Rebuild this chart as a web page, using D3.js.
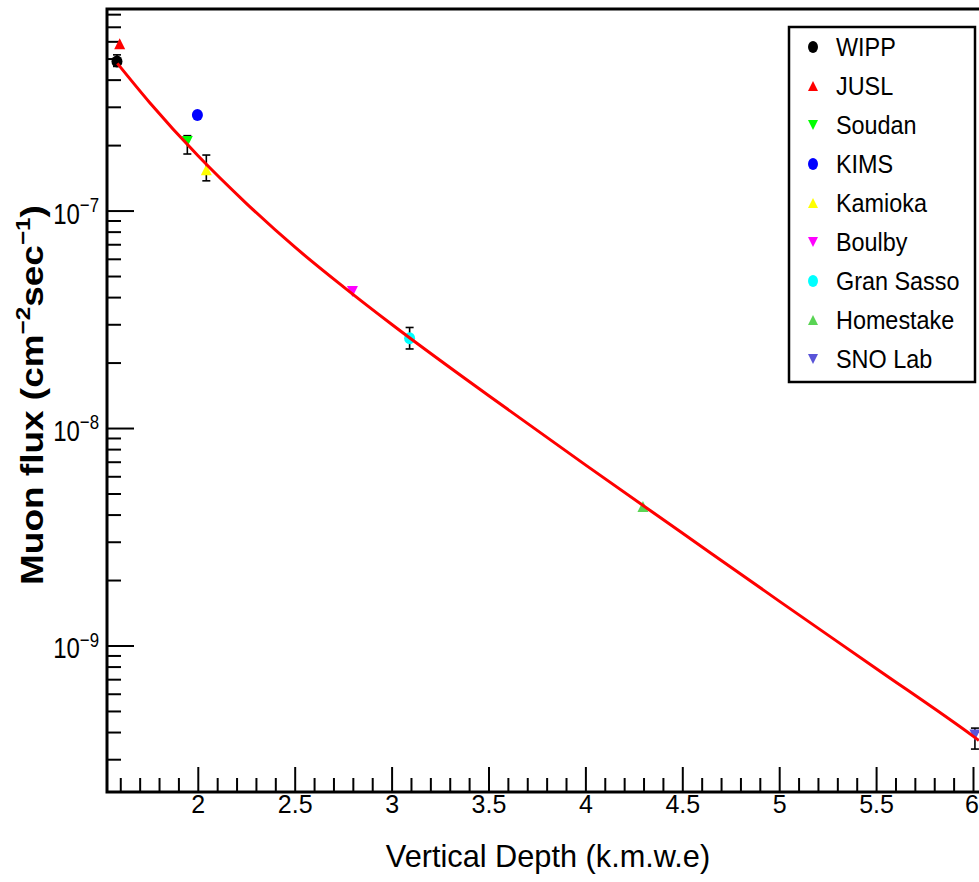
<!DOCTYPE html>
<html><head><meta charset="utf-8">
<script src="https://cdn.jsdelivr.net/npm/d3@7"></script>
<style>
body{margin:0;background:#fff}
text{font-family:"Liberation Sans",Arial,Helvetica,sans-serif;fill:#000}
</style>
</head><body>
<svg id="c" width="979" height="882"></svg>
<script>
// ---------------- data ----------------
const sites   = ["WIPP","JUSL","Soudan","KIMS","Kamioka","Boulby","Gran Sasso","Homestake","SNO Lab"];
const depths  = [1.583, 1.597, 1.946, 1.998, 2.044, 2.798, 3.093, 4.297, 6.01];
const fluxes  = [4.85e-7, 5.85e-7, 2.08e-7, 2.75e-7, 1.54e-7, 4.25e-8, 2.59e-8, 4.36e-9, 3.88e-10];
const errLow  = [4.6e-7, null, 1.82e-7, null, 1.37e-7, null, 2.31e-8, null, 3.34e-10];
const errHigh = [5.2e-7, null, 2.21e-7, null, 1.80e-7, null, 2.90e-8, null, 4.17e-10];
// fitted curve
const fitDepth = [1.585, 1.75, 2.0, 2.25, 2.5, 2.75, 3.0, 3.5, 4.0, 4.5, 5.0, 5.5, 6.0, 6.03];
const fitFlux  = [4.75e-7, 3.15e-7, 1.79e-7, 1.08e-7, 6.8e-8, 4.47e-8, 3.0e-8, 1.41e-8, 6.77e-9, 3.29e-9, 1.60e-9, 7.84e-10, 3.83e-10, 3.66e-10];
// ticks
const xMajorTicks = [2, 2.5, 3, 3.5, 4, 4.5, 5, 5.5, 6];
const xTickLabels = ["2","2.5","3","3.5","4","4.5","5","5.5","6"];
const yDecades    = [-7, -8, -9];
const xTitle = "Vertical Depth (k.m.w.e)";

// ---------------- styles ----------------
const markerColor = ["#000000","#ff0000","#00ff00","#0000ff","#ffff00","#ff00ff","#00ffff","#59d454","#5954d8"];
const markerShape = ["circle","up","down","circle","up","down","circle","up","down"];

// ---------------- layout ----------------
const svg = d3.select("#c");
const L = 107, T = 9, R = 979, B = 792;
const x = d3.scaleLinear().domain([1.5315, 6.031]).range([L, R]);
const y = d3.scaleLog().domain([8.45e-7, 2.12e-10]).range([T, B]);

svg.append("defs").append("clipPath").attr("id","clip")
  .append("rect").attr("x",L).attr("y",T).attr("width",R-L).attr("height",B-T);

function shapePath(shape, w, h){
  if(shape==="circle"){
    const r=w/2, ry=h/2;
    return `M${-r},0A${r},${ry} 0 1,0 ${r},0A${r},${ry} 0 1,0 ${-r},0Z`;
  }
  if(shape==="up")   return `M0,${-h/2}L${w/2},${h/2}L${-w/2},${h/2}Z`;
  return `M0,${h/2}L${w/2},${-h/2}L${-w/2},${-h/2}Z`;
}

// ---------------- axes ----------------
const xMinor = [];
for (let v = 1.6; v <= 6.0001; v += 0.1) { const r = Math.round(v*10)/10; if (Math.abs(r*2-Math.round(r*2))>1e-6) xMinor.push(r); }
const gxm = svg.append("g").attr("transform",`translate(0,${B})`)
  .call(d3.axisBottom(x).tickValues(xMinor).tickSize(-14).tickSizeOuter(0).tickFormat(""));
gxm.select(".domain").remove();
gxm.selectAll("line").attr("stroke","#000").attr("stroke-width",2);

const gx = svg.append("g").attr("transform",`translate(0,${B})`)
  .call(d3.axisBottom(x).tickValues(xMajorTicks).tickSize(-25).tickSizeOuter(0).tickPadding(3)
        .tickFormat((d,i)=>xTickLabels[i]));
gx.select(".domain").remove();
gx.attr("font-family",null).attr("font-size",null);
gx.selectAll("line").attr("stroke","#000").attr("stroke-width",2);
gx.selectAll("text").attr("font-size","25px").attr("fill","#000");
// keep the last label inside the picture
gx.selectAll("text").filter(d=>d===6).attr("text-anchor","end").attr("x", R - x(6) - 0.5);

const yMinor = [];
[-10,-9,-8,-7].forEach(e => { for (let m=2;m<=9;m++){ const v=m*Math.pow(10,e); if (v<=8.45e-7 && v>=2.12e-10) yMinor.push(v);} });
const gym = svg.append("g").attr("transform",`translate(${L},0)`)
  .call(d3.axisLeft(y).tickValues(yMinor).tickSize(-14).tickSizeOuter(0).tickFormat(""));
gym.select(".domain").remove();
gym.selectAll("line").attr("stroke","#000").attr("stroke-width",2);

const gy = svg.append("g").attr("transform",`translate(${L},0)`)
  .call(d3.axisLeft(y).tickValues(yDecades.map(e=>Math.pow(10,e))).tickSize(-27).tickSizeOuter(0).tickFormat(""));
gy.select(".domain").remove();
gy.selectAll("line").attr("stroke","#000").attr("stroke-width",2);

// y tick labels 10^e
yDecades.forEach(e => {
  const g = svg.append("g").attr("transform",`translate(99,${y(Math.pow(10,e))+13}) scale(0.8,1)`);
  const t = g.append("text").attr("text-anchor","end").attr("font-size","30px");
  t.append("tspan").text("10");
  t.append("tspan").attr("font-size","21px").attr("dy",-12).text("\u2212"+(-e));
});

// frame
svg.append("rect").attr("x",L).attr("y",T).attr("width",R-L+20).attr("height",B-T)
  .attr("fill","none").attr("stroke","#000").attr("stroke-width",3);

// ---------------- data marks ----------------
const pts = sites.map((s,i)=>({s, d:depths[i], f:fluxes[i], lo:errLow[i], hi:errHigh[i], c:markerColor[i], sh:markerShape[i]}));
const plot = svg.append("g").attr("clip-path","url(#clip)");

const eb = plot.selectAll("g.eb").data(pts.filter(p=>p.lo!==null)).join("g").attr("class","eb")
  .attr("stroke","#000").attr("stroke-width",1.6);
eb.append("line").attr("x1",p=>x(p.d)).attr("x2",p=>x(p.d)).attr("y1",p=>y(p.lo)).attr("y2",p=>y(p.hi));
eb.append("line").attr("x1",p=>x(p.d)-4).attr("x2",p=>x(p.d)+4).attr("y1",p=>y(p.lo)).attr("y2",p=>y(p.lo));
eb.append("line").attr("x1",p=>x(p.d)-4).attr("x2",p=>x(p.d)+4).attr("y1",p=>y(p.hi)).attr("y2",p=>y(p.hi));

plot.selectAll("path.mk").data(pts).join("path").attr("class","mk")
  .attr("transform",p=>`translate(${x(p.d)},${y(p.f)})`)
  .attr("d",p=>p.sh==="circle"?shapePath("circle",11,12):shapePath(p.sh,11,11))
  .attr("fill",p=>p.c);

const line = d3.line().x(d=>x(d[0])).y(d=>y(d[1])).curve(d3.curveMonotoneX);
plot.append("path").datum(fitDepth.map((d,i)=>[d,fitFlux[i]]))
  .attr("d",line).attr("fill","none").attr("stroke","#ff0000").attr("stroke-width",3);

// ---------------- titles ----------------
svg.append("g").attr("transform",`translate(548,867) scale(0.96,1)`)
  .append("text").attr("text-anchor","middle").attr("font-size","32px").text(xTitle);

const yt = svg.append("g").attr("transform","translate(43,395) rotate(-90)");
const ytInner = yt.append("g");
const ytt = ytInner.append("text").attr("text-anchor","middle").attr("font-size","32px").attr("font-weight","bold");
ytt.append("tspan").text("Muon flux (cm");
ytt.append("tspan").attr("font-size","21px").attr("dy",-13).text("\u22122");
ytt.append("tspan").attr("dy",13).text("sec");
ytt.append("tspan").attr("font-size","21px").attr("dy",-13).text("\u22121");
ytt.append("tspan").attr("dy",13).text(")");
const bb = ytt.node().getBBox();
ytInner.attr("transform",`scale(${380/bb.width},1)`);

// ---------------- legend ----------------
const lg = svg.append("g");
lg.append("rect").attr("x",789).attr("y",27).attr("width",186).attr("height",355)
  .attr("fill","#fff").attr("stroke","#000").attr("stroke-width",2.5);
pts.forEach((p,i)=>{
  const by = 56 + 39*i;
  lg.append("path").attr("transform",`translate(813,${by-9})`)
    .attr("d",p.sh==="circle"?shapePath("circle",10,12):shapePath(p.sh,10,10)).attr("fill",p.c);
  lg.append("g").attr("transform",`translate(836,${by}) scale(0.9,1)`)
    .append("text").attr("font-size","26px").text(p.s);
});
</script>
</body></html>
